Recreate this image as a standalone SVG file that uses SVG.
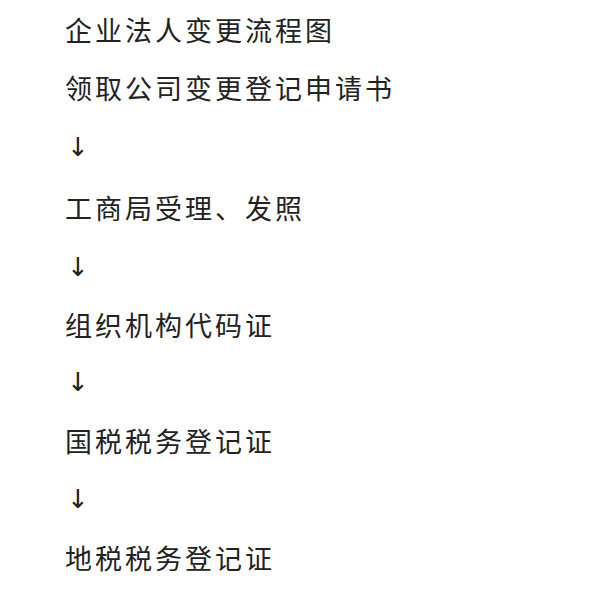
<svg xmlns="http://www.w3.org/2000/svg" width="608" height="603" viewBox="0 0 608 603">
<style>
.t{font-family:"Noto Sans CJK SC","Noto Sans CJK JP",sans-serif;font-size:27px;fill:#222;letter-spacing:3px}
.a{font-family:"DejaVu Sans","Liberation Sans",sans-serif;font-size:26px;fill:#222}
</style>
<rect width="608" height="603" fill="#fff"/>
<g id="title"><text class="t" x="65" y="41">企业法人变更流程图</text></g>
<g id="n1"><text class="t" x="65" y="99">领取公司变更登记申请书</text></g>
<g id="n2"><text class="t" x="65" y="219">工商局受理、发照</text></g>
<g id="n3"><text class="t" x="65" y="336">组织机构代码证</text></g>
<g id="n4"><text class="t" x="65" y="452">国税税务登记证</text></g>
<g id="n5"><text class="t" x="65" y="569">地税税务登记证</text></g>
<g id="connectors">
<text class="a" x="67" y="156">↓</text>
<text class="a" x="67" y="276">↓</text>
<text class="a" x="67" y="391">↓</text>
<text class="a" x="67" y="508">↓</text>
</g>
</svg>
